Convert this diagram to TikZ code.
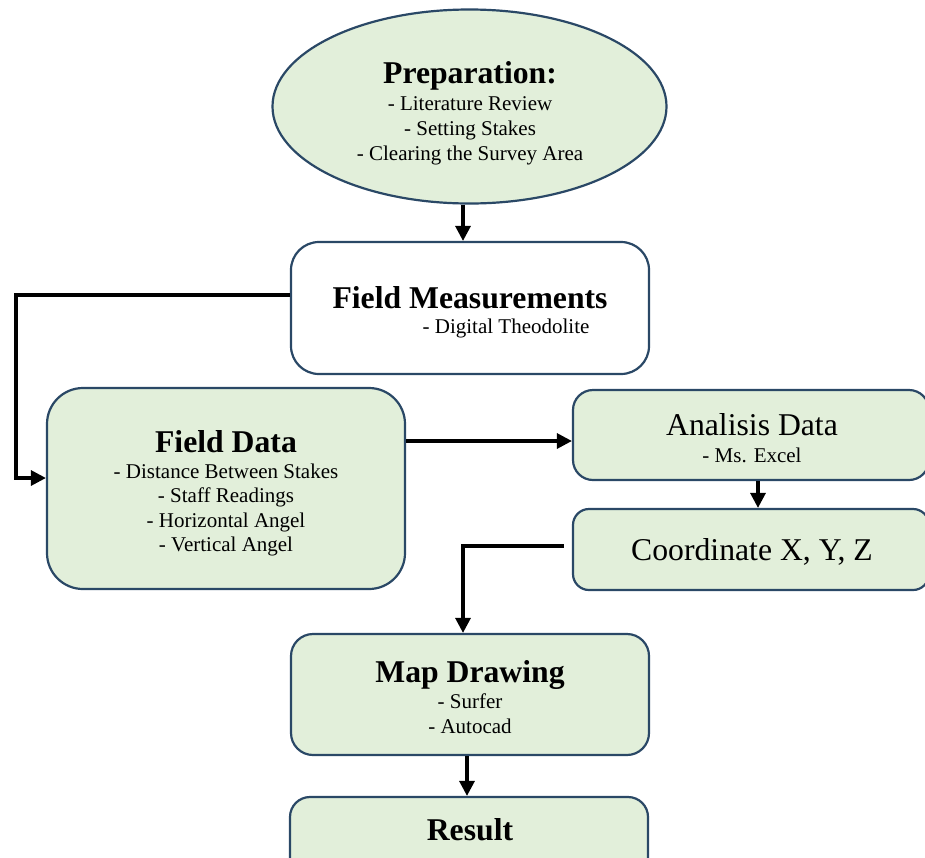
\documentclass[tikz,border=0pt]{standalone}
\usepackage{fontspec}
\setmainfont{Liberation Serif}
\usetikzlibrary{arrows.meta,shapes.geometric,calc}
\definecolor{boxfill}{HTML}{E2EFDA}
\definecolor{boxline}{HTML}{2A4866}
\begin{document}
\begin{tikzpicture}[x=1pt,y=-1pt,
  box/.style={draw=boxline,line width=2.2pt,fill=boxfill,inner sep=0pt,rectangle},
  conn/.style={line width=3.2pt,-{Triangle[length=15pt,width=15pt]}},
  ttl/.style={font=\fontsize{31.7}{34}\selectfont\bfseries,inner sep=0pt,anchor=base},
  big/.style={font=\fontsize{31.7}{34}\selectfont,inner sep=0pt,anchor=base},
  itm/.style={font=\fontsize{21}{25}\selectfont,inner sep=0pt,anchor=base}]
\useasboundingbox (0,0) rectangle (925,857);
\clip (0,0) rectangle (925,857);
% shapes
\node[box,ellipse,minimum width=394pt,minimum height=194pt] (prep) at (469.5,106.5) {};
\node[box,fill=white,rounded corners=28pt,minimum width=358pt,minimum height=132pt] (fm) at (470,308) {};
\node[box,rounded corners=36pt,minimum width=358pt,minimum height=201pt] (fd) at (226,488.5) {};
\node[box,rounded corners=20pt,minimum width=356pt,minimum height=90pt] (ad) at (751,435) {};
\node[box,rounded corners=16pt,minimum width=356pt,minimum height=81pt] (cxyz) at (751,549.5) {};
\node[box,rounded corners=22pt,minimum width=358pt,minimum height=121pt] (md) at (470,694.5) {};
\node[box,rounded corners=20pt,minimum width=358pt,minimum height=80pt] (res) at (469,837) {};
% texts
\node[ttl] (prepT) at (470,83) {Preparation:};
\node[itm] (prep1) at (470,110) {- Literature Review};
\node[itm] (prep2) at (470,135) {- Setting Stakes};
\node[itm] (prep3) at (470,160) {- Clearing the Survey Area};
\node[ttl] (fmT) at (470,308) {Field Measurements};
\node[itm] (fm1) at (506,333) {- Digital Theodolite};
\node[ttl] (fdT) at (226,452) {Field Data};
\node[itm] (fd1) at (226,478) {- Distance Between Stakes};
\node[itm] (fd2) at (226,502) {- Staff Readings};
\node[itm] (fd3) at (226,527) {- Horizontal Angel};
\node[itm] (fd4) at (226,551) {- Vertical Angel};
\node[big] (adT) at (752,435) {Analisis Data};
\node[itm] (ad1) at (752,462) {- Ms. Excel};
\node[big] (cxyzT) at (752,560) {Coordinate X, Y, Z};
\node[ttl] (mdT) at (470,682) {Map Drawing};
\node[itm] (md1) at (470,708) {- Surfer};
\node[itm] (md2) at (470,733) {- Autocad};
\node[ttl] (resT) at (470,840) {Result};
% connectors
\draw[conn] ($(prep.south)+(-6.5,0)$) -- ($(fm.north)+(-7,0)$);
\draw[conn] ($(fm.west)+(0,-13)$) -- ++(-274,0) |- ($(fd.west)+(0,-10.5)$);
\draw[conn] ($(fd.east)+(0,-47.5)$) -- ($(ad.west)+(0,6)$);
\draw[conn] ($(ad.south)+(7,0)$) -- ($(cxyz.north)+(7,0)$);
\draw[conn] ($(cxyz.west)+(-8,-3.5)$) -| ($(md.north)+(-7,0)$);
\draw[conn] ($(md.south)+(-3,0)$) -- ($(res.north)+(-2,0)$);
\end{tikzpicture}
\end{document}
